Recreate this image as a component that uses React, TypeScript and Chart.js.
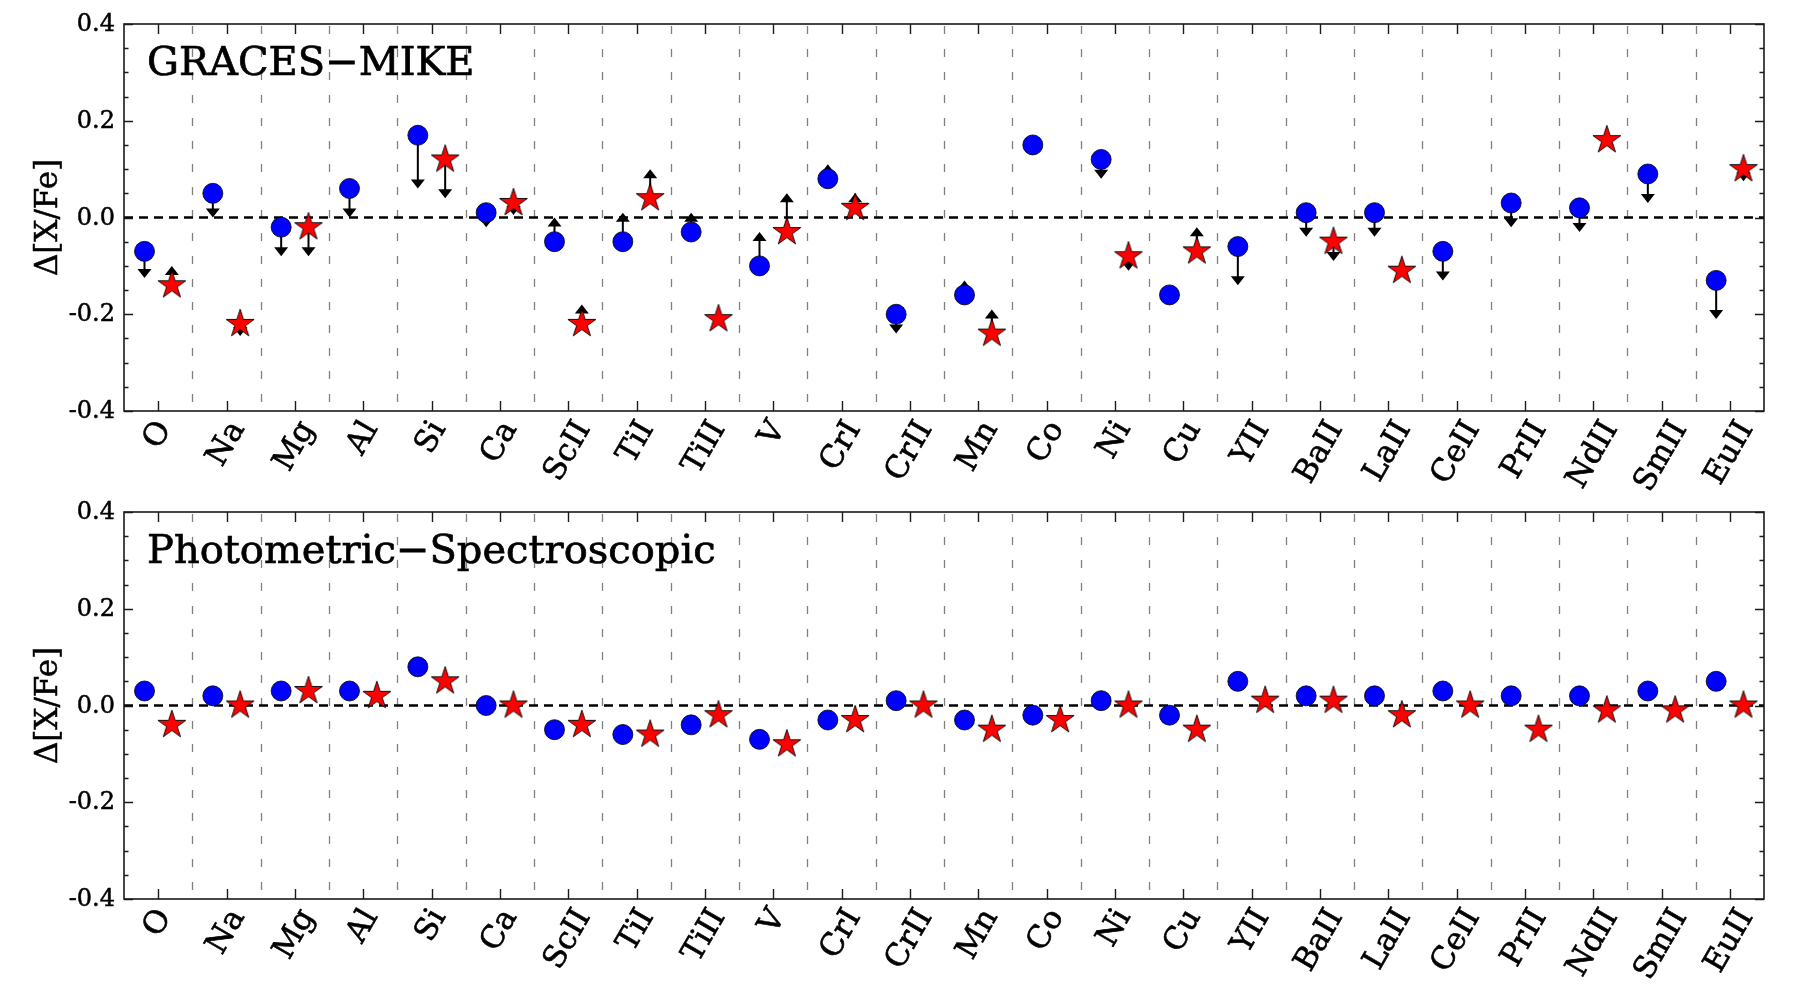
import React, { useEffect, useRef } from "react";
import { Chart, registerables } from "chart.js";

Chart.register(...registerables);

// ---------------- data ----------------
const categories = [
  "O", "Na", "Mg", "Al", "Si", "Ca", "ScII", "TiI", "TiII", "V", "CrI", "CrII",
  "Mn", "Co", "Ni", "Cu", "YII", "BaII", "LaII", "CeII", "PrII", "NdII", "SmII", "EuII",
];

const yTickValues = [-0.4, -0.2, 0.0, 0.2, 0.4];

// Top panel: GRACES−MIKE
const topCircle = [
  -0.07, 0.05, -0.02, 0.06, 0.17, 0.01, -0.05, -0.05, -0.03, -0.10, 0.08, -0.20,
  -0.16, 0.15, 0.12, -0.16, -0.06, 0.01, 0.01, -0.07, 0.03, 0.02, 0.09, -0.13,
];
const topCircleLimit = [
  -0.125, 0.0, -0.08, 0.0, 0.06, -0.02, 0.0, 0.01, 0.01, -0.03, 0.11, -0.24,
  -0.13, null, 0.08, null, -0.14, -0.04, -0.04, -0.13, -0.02, -0.03, 0.03, -0.21,
];
const topStar = [
  -0.14, -0.22, -0.02, null, 0.12, 0.03, -0.22, 0.04, -0.21, -0.03, 0.02, null,
  -0.24, null, -0.08, -0.07, null, -0.05, -0.11, null, null, 0.16, null, 0.10,
];
const topStarLimit = [
  -0.10, -0.245, -0.08, null, 0.04, 0.005, -0.18, 0.10, null, 0.05, 0.05, null,
  -0.19, null, -0.11, -0.02, null, -0.09, null, null, null, null, null, 0.075,
];

// Bottom panel: Photometric−Spectroscopic
const bottomCircle = [
  0.03, 0.02, 0.03, 0.03, 0.08, 0.0, -0.05, -0.06, -0.04, -0.07, -0.03, 0.01,
  -0.03, -0.02, 0.01, -0.02, 0.05, 0.02, 0.02, 0.03, 0.02, 0.02, 0.03, 0.05,
];
const bottomStar = [
  -0.04, 0.0, 0.03, 0.02, 0.05, 0.0, -0.04, -0.06, -0.02, -0.08, -0.03, 0.0,
  -0.05, -0.03, 0.0, -0.05, 0.01, 0.01, -0.02, 0.0, -0.05, -0.01, -0.01, 0.0,
];

const panelLabels = ["GRACES\u2212MIKE", "Photometric\u2212Spectroscopic"];
const yTitle = "\u0394[X/Fe]";

// ---------------- style constants ----------------
const CIRCLE_OFFSET = -0.2;
const STAR_OFFSET = 0.2;
const SERIF = '"DejaVu Serif", "Liberation Serif", serif';

function makeStar(R: number, r: number) {
  const size = Math.ceil(2 * R + 4);
  const c = document.createElement("canvas");
  c.width = size;
  c.height = size;
  const ctx = c.getContext("2d")!;
  const cx = size / 2;
  const cy = size / 2;
  ctx.beginPath();
  for (let k = 0; k < 10; k++) {
    const rad = k % 2 === 0 ? R : r;
    const a = -Math.PI / 2 + (k * Math.PI) / 5;
    const px = cx + rad * Math.cos(a);
    const py = cy + rad * Math.sin(a);
    if (k === 0) ctx.moveTo(px, py);
    else ctx.lineTo(px, py);
  }
  ctx.closePath();
  ctx.fillStyle = "#ff0000";
  ctx.fill();
  ctx.lineWidth = 0.9;
  ctx.strokeStyle = "#000000";
  ctx.stroke();
  return c;
}

function drawArrow(ctx: CanvasRenderingContext2D, px: number, py: number, tipY: number) {
  const dir = tipY < py ? -1 : 1;
  const head = 9;
  const half = 7;
  ctx.beginPath();
  ctx.moveTo(px, py);
  ctx.lineTo(px, tipY - dir * head + dir * 1);
  ctx.stroke();
  ctx.beginPath();
  ctx.moveTo(px, tipY);
  ctx.lineTo(px - half, tipY - dir * head);
  ctx.lineTo(px + half, tipY - dir * head);
  ctx.closePath();
  ctx.fill();
}

function boldText(ctx: CanvasRenderingContext2D, txt: string, x: number, y: number, sw: number) {
  ctx.fillText(txt, x, y);
  ctx.lineWidth = sw;
  ctx.strokeText(txt, x, y);
}

type PanelProps = {
  label: string;
  circle: (number | null)[];
  circleLimit: (number | null)[] | null;
  star: (number | null)[];
  starLimit: (number | null)[] | null;
  top: number;
};

function Panel({ label, circle, circleLimit, star, starLimit, top }: PanelProps) {
  const ref = useRef<HTMLCanvasElement>(null);

  useEffect(() => {
    const canvas = ref.current!;
    const starImg = makeStar(14.7, 5.6);

    const circleData = circle
      .map((v, i) => (v === null ? null : { x: i + CIRCLE_OFFSET, y: v }))
      .filter((p) => p !== null);
    const starData = star
      .map((v, i) => (v === null ? null : { x: i + STAR_OFFSET, y: v }))
      .filter((p) => p !== null);

    const plugin = {
      id: "panelDecor",
      beforeDatasetsDraw(chart: any) {
        const { ctx, chartArea: a, scales } = chart;
        const x = scales.x;
        const y = scales.y;
        ctx.save();
        // category separators
        ctx.strokeStyle = "#808080";
        ctx.lineWidth = 1.3;
        ctx.setLineDash([8, 15]);
        ctx.lineDashOffset = -2;
        for (let i = 0; i < categories.length - 1; i++) {
          const px = Math.round(x.getPixelForValue(i + 0.5)) + 0.5;
          ctx.beginPath();
          ctx.moveTo(px, a.top);
          ctx.lineTo(px, a.bottom);
          ctx.stroke();
        }
        // zero line
        ctx.strokeStyle = "#000";
        ctx.lineWidth = 2.6;
        ctx.setLineDash([9, 6]);
        ctx.lineDashOffset = 0;
        const y0 = y.getPixelForValue(0);
        ctx.beginPath();
        ctx.moveTo(a.left, y0);
        ctx.lineTo(a.right, y0);
        ctx.stroke();
        ctx.setLineDash([]);
        // limit arrows
        ctx.strokeStyle = "#000";
        ctx.fillStyle = "#000";
        ctx.lineWidth = 2;
        const drawSet = (vals: (number | null)[], lims: (number | null)[] | null, off: number) => {
          if (!lims) return;
          vals.forEach((v, i) => {
            const l = lims[i];
            if (v === null || l === null || l === undefined) return;
            const px = x.getPixelForValue(i + off);
            drawArrow(ctx, px, y.getPixelForValue(v), y.getPixelForValue(l));
          });
        };
        drawSet(circle, circleLimit, CIRCLE_OFFSET);
        drawSet(star, starLimit, STAR_OFFSET);
        ctx.restore();
      },
      afterDraw(chart: any) {
        const { ctx, chartArea: a, scales } = chart;
        const x = scales.x;
        const y = scales.y;
        ctx.save();
        // frame
        ctx.strokeStyle = "#1a1a1a";
        ctx.lineWidth = 1.6;
        ctx.strokeRect(a.left, a.top, a.right - a.left, a.bottom - a.top);
        // x ticks (inward, top and bottom)
        ctx.lineWidth = 1.4;
        for (let i = 0; i < categories.length; i++) {
          const px = Math.round(x.getPixelForValue(i)) + 0.5;
          ctx.beginPath();
          ctx.moveTo(px, a.bottom);
          ctx.lineTo(px, a.bottom - 10);
          ctx.moveTo(px, a.top);
          ctx.lineTo(px, a.top + 10);
          ctx.stroke();
        }
        // y ticks (major + minor, inward, left and right)
        for (let j = 0; j < yTickValues.length; j++) {
          const v = yTickValues[j];
          const py = Math.round(y.getPixelForValue(v)) + 0.5;
          ctx.beginPath();
          ctx.moveTo(a.left, py);
          ctx.lineTo(a.left + 9, py);
          ctx.moveTo(a.right, py);
          ctx.lineTo(a.right - 9, py);
          ctx.stroke();
          if (j < yTickValues.length - 1) {
            const next = yTickValues[j + 1];
            for (let k = 1; k < 4; k++) {
              const mv = v + ((next - v) * k) / 4;
              const my = Math.round(y.getPixelForValue(mv)) + 0.5;
              ctx.beginPath();
              ctx.moveTo(a.left, my);
              ctx.lineTo(a.left + 4.5, my);
              ctx.moveTo(a.right, my);
              ctx.lineTo(a.right - 4.5, my);
              ctx.stroke();
            }
          }
        }
        ctx.fillStyle = "#000";
        ctx.strokeStyle = "#000";
        // y tick labels
        ctx.font = `24px ${SERIF}`;
        ctx.textAlign = "right";
        ctx.textBaseline = "middle";
        for (const v of yTickValues) {
          boldText(ctx, v.toFixed(1), a.left - 9, y.getPixelForValue(v) + 1, 0.5);
        }
        // y title
        ctx.save();
        ctx.font = `31px ${SERIF}`;
        ctx.textAlign = "center";
        ctx.textBaseline = "middle";
        ctx.translate(49, (a.top + a.bottom) / 2);
        ctx.rotate(-Math.PI / 2);
        boldText(ctx, yTitle, 0, 0, 0.5);
        ctx.restore();
        // rotated category labels (bbox centred under the tick)
        const fs = 31;
        ctx.font = `${fs}px ${SERIF}`;
        ctx.textAlign = "center";
        ctx.textBaseline = "middle";
        const th = (60 * Math.PI) / 180;
        const h = fs * 1.05;
        for (let i = 0; i < categories.length; i++) {
          const txt = categories[i];
          const w = ctx.measureText(txt).width;
          const H = w * Math.sin(th) + h * Math.cos(th);
          const cx = x.getPixelForValue(i);
          const cy = a.bottom + 5 + H / 2;
          ctx.save();
          ctx.translate(cx, cy);
          ctx.rotate(-th);
          boldText(ctx, txt, 0, 0, 0.6);
          ctx.restore();
        }
        // panel label
        ctx.font = `40px ${SERIF}`;
        ctx.textAlign = "left";
        ctx.textBaseline = "alphabetic";
        boldText(ctx, label, a.left + 23, a.top + 51, 0.7);
        ctx.restore();
      },
    };

    const chart = new Chart(canvas, {
      type: "scatter",
      data: {
        datasets: [
          {
            data: circleData as any,
            pointStyle: "circle",
            pointRadius: 10,
            pointBackgroundColor: "#0000ff",
            pointBorderColor: "#000000",
            pointBorderWidth: 0.8,
            showLine: false,
          },
          {
            data: starData as any,
            pointStyle: starImg as any,
            pointRadius: 10,
            showLine: false,
          },
        ],
      },
      options: {
        animation: false,
        responsive: false,
        events: [],
        layout: { padding: { top: 24, right: 36, left: 0, bottom: 0 } },
        plugins: { legend: { display: false }, tooltip: { enabled: false } },
        scales: {
          x: {
            type: "linear",
            min: -0.5,
            max: categories.length - 0.5,
            grid: { display: false, drawTicks: false },
            border: { display: false },
            ticks: { display: false },
            afterFit: (s: any) => {
              s.height = 101;
              s.paddingLeft = 0;
              s.paddingRight = 0;
            },
          },
          y: {
            type: "linear",
            min: yTickValues[0],
            max: yTickValues[yTickValues.length - 1],
            grid: { display: false, drawTicks: false },
            border: { display: false },
            ticks: { display: false },
            afterFit: (s: any) => {
              s.width = 124;
              s.paddingTop = 0;
              s.paddingBottom = 0;
            },
          },
        },
      },
      plugins: [plugin],
    });

    return () => chart.destroy();
  }, []);

  return (
    <canvas
      ref={ref}
      width={1800}
      height={512}
      style={{ position: "absolute", left: 0, top, display: "block" }}
    />
  );
}

export default function App() {
  return (
    <div
      style={{
        position: "absolute",
        left: 0,
        top: 0,
        width: 1800,
        height: 1000,
        background: "#ffffff",
        overflow: "hidden",
      }}
    >
      <Panel
        label={panelLabels[0]}
        circle={topCircle}
        circleLimit={topCircleLimit}
        star={topStar}
        starLimit={topStarLimit}
        top={0}
      />
      <Panel
        label={panelLabels[1]}
        circle={bottomCircle}
        circleLimit={null}
        star={bottomStar}
        starLimit={null}
        top={488}
      />
    </div>
  );
}
